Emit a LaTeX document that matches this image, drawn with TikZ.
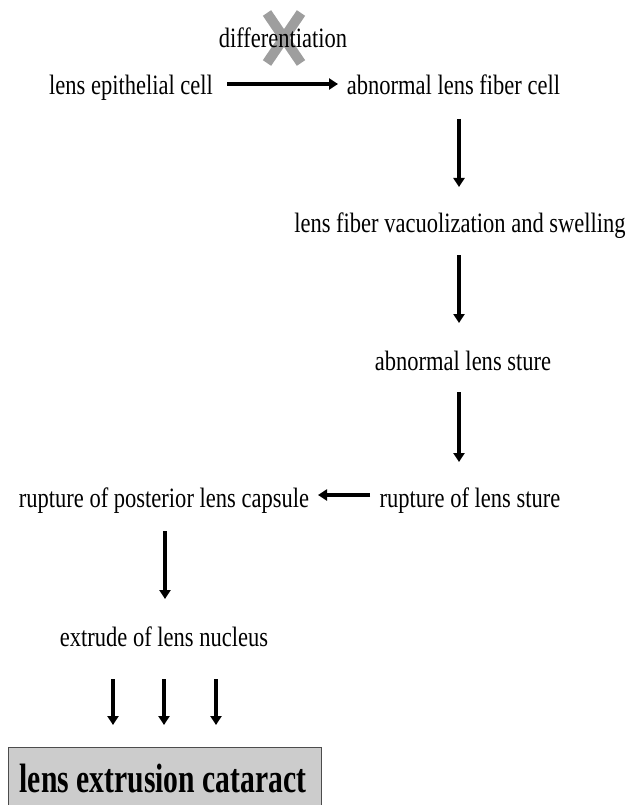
\documentclass[tikz,border=0pt]{standalone}
\usepackage{fontspec}
\setmainfont{Liberation Serif}[FakeStretch=0.804]
\newfontfamily\catfont{Liberation Serif}[FakeStretch=0.723]
\usetikzlibrary{arrows.meta}
\begin{document}
\begin{tikzpicture}[x=1pt,y=1pt,
  lbl/.style={inner sep=0pt, anchor=base, font=\fontsize{28}{32}\selectfont},
  flow/.style={line width=3.4pt, -{Triangle[length=9pt,width=11pt]}},
  final/.style={draw=black!70, line width=1.2pt, fill=black!20, minimum width=313pt, minimum height=80pt, anchor=north west, inner sep=0pt}]
\clip (0,0) rectangle (629,-805);
\useasboundingbox (0,0) rectangle (629,-805);
% cross mark
\draw[line width=10pt, black!38] (267,-13) -- (301,-63);
\draw[line width=10pt, black!38] (301,-13) -- (267,-63);
\node[lbl] (diff) at (283,-47.5) {differentiation};
\node[lbl] (epi) at (131,-95) {lens epithelial cell};
\node[lbl] (abn) at (453.5,-95) {abnormal lens fiber cell};
\node[lbl] (vac) at (460,-232) {lens fiber vacuolization and swelling};
\node[lbl] (sture) at (463,-370) {abnormal lens sture};
\node[lbl] (rup) at (470,-507) {rupture of lens sture};
\node[lbl] (post) at (164,-507) {rupture of posterior lens capsule};
\node[lbl] (nuc) at (164,-646) {extrude of lens nucleus};
\node[final] (cat) at (8,-747) {};
\node[inner sep=0pt, anchor=base, font=\catfont\fontsize{41}{45}\selectfont\bfseries] (cattext) at (163,-792) {lens extrusion cataract};
% connectors
\coordinate (a1s) at (227,-84); \coordinate (a1e) at (338,-84);
\draw[flow] (a1s) -- (a1e);
\draw[flow] (459,-119) -- (459,-187);
\draw[flow] (459,-255) -- (459,-323);
\draw[flow] (459,-392) -- (459,-462);
\draw[flow] (370,-495) -- (318,-495);
\draw[flow] (165,-531) -- (165,-599);
\draw[flow] (113,-679) -- (113,-725);
\draw[flow] (164,-679) -- (164,-725);
\draw[flow] (216,-679) -- (216,-725);
\end{tikzpicture}
\end{document}
